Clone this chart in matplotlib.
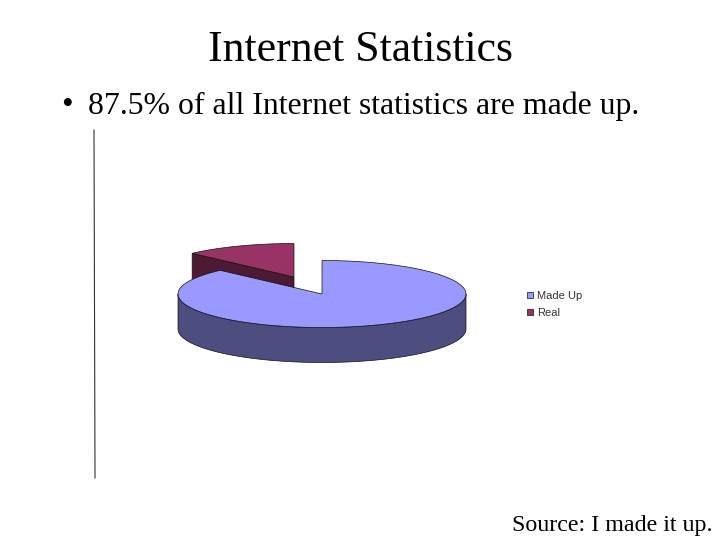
import numpy as np
import matplotlib
matplotlib.use("Agg")
import matplotlib.pyplot as plt
from matplotlib.patches import Polygon

labels = ["Made Up", "Real"]
values = [87.5, 12.5]
colors = ["#9999FF", "#993366"]
side_colors = ["#4D4D80", "#4D1A33"]

TITLE = "Internet Statistics"
BULLET = "87.5% of all Internet statistics are made up."
SOURCE = "Source: I made it up."

# pie geometry in pixels
CX, CY = 322, 294
RX, RY = 144, 33.5
DEPTH = 35
EXPLODE = (-28, -17)


def arc(cx, cy, a0, a1):
    t = np.radians(np.linspace(a0, a1, 120))
    return np.column_stack([cx + RX * np.cos(t), cy - RY * np.sin(t)])


plt.rcParams["font.family"] = ["Liberation Serif", "DejaVu Serif"]
fig = plt.figure(figsize=(7.2, 5.4), dpi=100)
ax = fig.add_axes([0, 0, 1, 1])
ax.set_xlim(0, 720)
ax.set_ylim(540, 0)
ax.axis("off")

# start at 12 o'clock and go clockwise
start = 90
end_main = start - 360 * values[0] / sum(values)
edge = dict(edgecolor="#111111", linewidth=0.5)

# exploded slice first, the big one covers it
cx2, cy2 = CX + EXPLODE[0], CY + EXPLODE[1]
real_top = arc(cx2, cy2, end_main + 360, start)
outer = real_top[0]
ax.add_patch(Polygon([outer, (cx2, cy2), (cx2, cy2 + DEPTH), (outer[0], outer[1] + DEPTH)],
                     facecolor=side_colors[1], **edge))
ax.add_patch(Polygon(np.vstack([[(cx2, cy2)], real_top]), facecolor=colors[1], label=labels[1], **edge))

# big slice
wall = arc(CX, CY, 180, 360)
wall_low = wall[::-1] + [0, DEPTH]
ax.add_patch(Polygon(np.vstack([wall, wall_low]), facecolor=side_colors[0], **edge))
main_top = arc(CX, CY, start, end_main)
ax.add_patch(Polygon(np.vstack([[(CX, CY)], main_top]), facecolor=colors[0], label=labels[0], **edge))

# axis line left over from the slide
ax.plot([94, 95], [130, 478], color="#333333", linewidth=0.8)

ax.text(360, 50, TITLE, fontsize=31.6, ha="center", va="center", color="black")
ax.text(67, 106, "\u2022", fontsize=24, ha="center", va="center", color="black")
ax.text(88, 106, BULLET, fontsize=22.9, ha="left", va="center", color="black")
ax.text(713, 526, SOURCE, fontsize=17.3, ha="right", va="center", color="black")

handles, names = ax.get_legend_handles_labels()
order = [names.index(n) for n in labels]
ax.legend([handles[i] for i in order], [names[i] for i in order],
          loc="center left", bbox_to_anchor=(527 / 720, 1 - 304.5 / 540), frameon=False,
          prop={"family": "Liberation Sans", "size": 8}, handlelength=0.55, handleheight=0.55,
          handletextpad=0.36, labelspacing=0.62, borderpad=0, borderaxespad=0, labelcolor="#333333")

plt.savefig("out.png", dpi=100)
plt.close()
